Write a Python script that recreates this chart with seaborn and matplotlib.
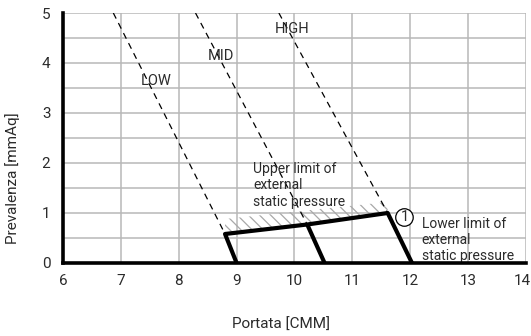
import matplotlib
matplotlib.use("Agg")
import matplotlib.pyplot as plt
import matplotlib.transforms as mtransforms
import numpy as np
import pandas as pd
import seaborn as sns

# fan curves (dashed), endpoints
fan_speed = ["LOW", "LOW", "MID", "MID", "HIGH", "HIGH"]
fan_flow = [6.87, 8.80, 8.29, 10.22, 9.73, 11.61]
fan_press = [5.0, 0.58, 5.0, 0.77, 5.0, 1.0]

# operating range (thick outline)
range_seg = ["a", "a", "a", "a", "a", "b", "b"]
range_flow = [9.0, 8.80, 10.22, 11.61, 12.03, 10.22, 10.52]
range_press = [0.0, 0.58, 0.77, 1.0, 0.0, 0.77, 0.0]

# hatched band above the upper limit
hatch_flow = [8.80, 11.61]
hatch_low = [0.58, 1.0]
hatch_high = [0.88, 1.22]

speed_labels = ["LOW", "MID", "HIGH"]
speed_lab_x = [7.61, 8.73, 9.96]
speed_lab_y = [3.64, 4.14, 4.68]

sns.set_style("white")
plt.rcParams["font.family"] = ["Roboto", "DejaVu Sans"]
plt.rcParams["hatch.linewidth"] = 0.9
txt_col = "#2b2b2b"

fig = plt.figure(figsize=(5.31, 3.36), dpi=100)
ax = fig.add_axes([0.1186, 0.2173, 0.872, 0.744])

df_fan = pd.DataFrame({"speed": fan_speed, "flow": fan_flow, "press": fan_press})
df_range = pd.DataFrame({"seg": range_seg, "flow": range_flow, "press": range_press})

ax.fill_between(hatch_flow, hatch_low, hatch_high, facecolor="none",
                edgecolor="#a8a8a8", hatch="\\\\\\", linewidth=0, zorder=2)
sns.lineplot(data=df_fan, x="flow", y="press", units="speed", estimator=None, sort=False,
             color="black", linewidth=0.9, linestyle=(0, (5, 4)), ax=ax, zorder=3)
sns.lineplot(data=df_range, x="flow", y="press", units="seg", estimator=None, sort=False,
             color="black", linewidth=3, ax=ax, zorder=4, solid_capstyle="butt")

for lab, lx, ly in zip(speed_labels, speed_lab_x, speed_lab_y):
    ax.text(lx, ly, lab, ha="center", va="center", fontsize=10.5, color=txt_col, zorder=5)

ax.text(9.29, 1.55, "Upper limit of\nexternal\nstatic pressure", ha="left", va="center",
        fontsize=10, color=txt_col, linespacing=1.2, zorder=5)
ax.text(11.90, 0.91, "1", ha="center", va="center", fontsize=10.5, color=txt_col, zorder=6,
        bbox=dict(boxstyle="circle,pad=0.12", fc="white", ec="black", lw=0.9))
ax.text(12.20, 0.46, "Lower limit of\nexternal\nstatic pressure", ha="left", va="center",
        fontsize=10, color=txt_col, linespacing=1.2, zorder=5)

ax.set_xlim(6, 14)
ax.set_ylim(0, 5)
ax.set_xticks(np.arange(6, 15, 1))
ax.set_yticks(np.arange(0, 6, 1))
ax.set_yticks(np.arange(0.5, 5, 1), minor=True)
ax.grid(True, which="both", color="#b8b8b8", linewidth=1.1)
ax.set_axisbelow(True)

for side in ["top", "right"]:
    ax.spines[side].set_visible(False)
for side in ["left", "bottom"]:
    ax.spines[side].set_linewidth(2.6)
    ax.spines[side].set_color("black")
    ax.spines[side].set_zorder(5)

ax.tick_params(axis="both", which="both", direction="out", length=4, width=1.5,
               color="black", labelsize=11, labelcolor=txt_col)
ax.tick_params(axis="y", which="both", direction="inout", length=6)
ax.tick_params(axis="y", which="major", pad=6)
ax.tick_params(axis="x", which="major", pad=4)

# last x label sits slightly left of its tick, inside the figure
last = ax.get_xticklabels()[-1]
last.set_transform(last.get_transform() + mtransforms.ScaledTranslation(-4 / 100, 0, fig.dpi_scale_trans))

ax.set_xlabel("Portata [CMM]", fontsize=11, color=txt_col)
ax.xaxis.set_label_coords(0.471, -0.22)
ax.set_ylabel("Prevalenza [mmAq]", fontsize=11, color=txt_col)
ax.yaxis.set_label_coords(-0.093, 0.34)

fig.savefig("out.png", dpi=100)
